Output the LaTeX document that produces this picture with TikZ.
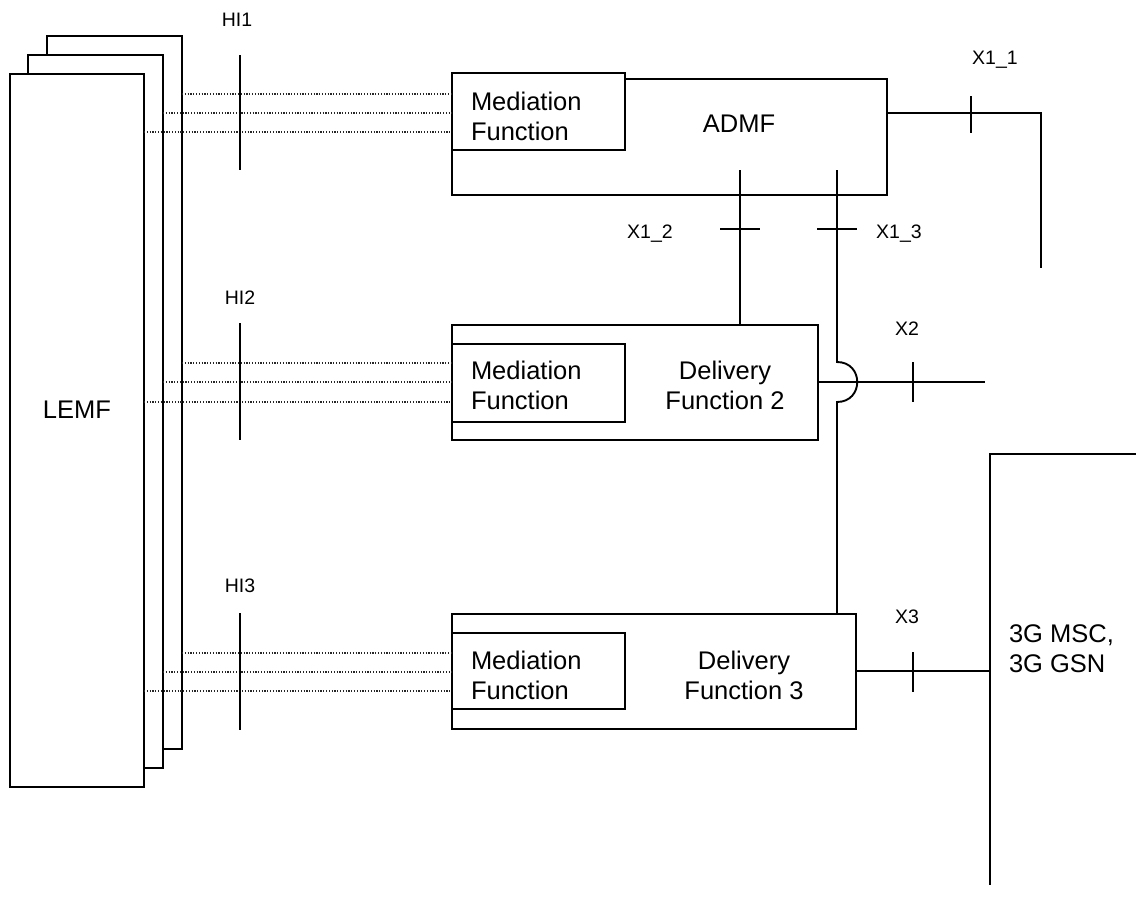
\documentclass[tikz,border=0pt]{standalone}
\usepackage{fontspec}
\setmainfont{Liberation Sans}
\begin{document}
\begin{tikzpicture}[x=1pt,y=-1pt,
  ln/.style={line width=1.9pt},
  boxs/.style={draw, line width=1.9pt, fill=white, inner sep=0pt, outer sep=0pt, anchor=north west},
  dotl/.style={line width=1.2pt, dash pattern=on 1.2pt off 1.6pt, black!85},
  big/.style={font=\fontsize{25.5}{30}\selectfont, inner sep=0pt, outer sep=0pt},
  lbl/.style={font=\fontsize{19.5}{23}\selectfont, inner sep=0pt}]
\useasboundingbox (0,0) rectangle (1136,913);

% LEMF stack
\node[boxs, minimum width=135pt, minimum height=713pt] (lemfA) at (47,36) {};
\node[boxs, minimum width=135pt, minimum height=713pt] (lemfB) at (28,55) {};
\node[boxs, minimum width=134pt, minimum height=713pt] (lemfC) at (10,74) {};
\node[big] (lemft) at (77,410) {LEMF};

% ADMF
\node[boxs, minimum width=435pt, minimum height=116pt] (admf) at (452,79) {};
\node[boxs, minimum width=173pt, minimum height=77pt] (mf1) at (452,73) {};
\node[big, align=left, anchor=west] (mf1t) at (471,116) {Mediation\\Function};
\node[big] (admft) at (739,124) {ADMF};

% Delivery Function 2
\node[boxs, minimum width=366pt, minimum height=115pt] (df2) at (452,325) {};
\node[boxs, minimum width=173pt, minimum height=78pt] (mf2) at (452,344) {};
\node[big, align=left, anchor=west] (mf2t) at (471,385) {Mediation\\Function};
\node[big, align=center] (df2t) at (725,385) {Delivery\\Function 2};

% Delivery Function 3
\node[boxs, minimum width=404pt, minimum height=115pt] (df3) at (452,614) {};
\node[boxs, minimum width=173pt, minimum height=76pt] (mf3) at (452,633) {};
\node[big, align=left, anchor=west] (mf3t) at (471,675) {Mediation\\Function};
\node[big, align=center] (df3t) at (744,675) {Delivery\\Function 3};

% 3G MSC / GSN
\coordinate (mscTL) at (990,454);
\coordinate (mscTR) at (1140,454);
\coordinate (mscB) at (990,885);
\draw[ln] (mscTR) -- (mscTL) -- (mscB);
\node[big, align=left, anchor=west] (msct) at (1009,649) {3G MSC,\\3G GSN};

% HI dotted links
\draw[dotl] (lemfA.east |- 0,94) -- (mf1.west |- 0,94);
\draw[dotl] (lemfB.east |- 0,113) -- (mf1.west |- 0,113);
\draw[dotl] (lemfC.east |- 0,132) -- (mf1.west |- 0,132);
\draw[dotl] (lemfA.east |- 0,363) -- (mf2.west |- 0,363);
\draw[dotl] (lemfB.east |- 0,382) -- (mf2.west |- 0,382);
\draw[dotl] (lemfC.east |- 0,402) -- (mf2.west |- 0,402);
\draw[dotl] (lemfA.east |- 0,653) -- (mf3.west |- 0,653);
\draw[dotl] (lemfB.east |- 0,672) -- (mf3.west |- 0,672);
\draw[dotl] (lemfC.east |- 0,691) -- (mf3.west |- 0,691);

% HI bars and labels
\coordinate (hi1a) at (240,55);  \coordinate (hi1b) at (240,170);
\coordinate (hi2a) at (240,323); \coordinate (hi2b) at (240,440);
\coordinate (hi3a) at (240,613); \coordinate (hi3b) at (240,730);
\draw[ln] (hi1a) -- (hi1b);
\draw[ln] (hi2a) -- (hi2b);
\draw[ln] (hi3a) -- (hi3b);
\node[lbl] (hi1) at (237,20) {HI1};
\node[lbl] (hi2) at (240,298) {HI2};
\node[lbl] (hi3) at (240,586) {HI3};

% X1_1
\coordinate (x11c) at (1041,113);
\coordinate (x11e) at (1041,268);
\draw[ln] (admf.east |- x11c) -- (x11c) -- (x11e);
\coordinate (t11a) at (971,96); \coordinate (t11b) at (971,133);
\draw[ln] (t11a) -- (t11b);
\node[lbl] (x11) at (995,60) {X1\_1};

% X1_2
\coordinate (x12s) at (740,170);
\draw[ln] (x12s) -- (x12s |- df2.north);
\coordinate (t12a) at (720,229); \coordinate (t12b) at (760,229);
\draw[ln] (t12a) -- (t12b);
\node[lbl] (x12) at (650,234) {X1\_2};

% X1_3 with hop over X2
\coordinate (x13s) at (837,170);
\coordinate (hopa) at (837,362);
\coordinate (hopb) at (837,402);
\draw[ln] (x13s) -- (hopa) .. controls (864,362) and (864,402) .. (hopb) -- (hopb |- df3.north);
\coordinate (t13a) at (817,229); \coordinate (t13b) at (857,229);
\draw[ln] (t13a) -- (t13b);
\node[lbl] (x13) at (899,234) {X1\_3};

% X2
\coordinate (x2e) at (985,382);
\draw[ln] (df2.east |- x2e) -- (x2e);
\coordinate (t2a) at (913,362); \coordinate (t2b) at (913,402);
\draw[ln] (t2a) -- (t2b);
\node[lbl] (x2) at (907,329) {X2};

% X3
\draw[ln] (df3.east |- 0,671) -- (mscTL |- 0,671);
\coordinate (t3a) at (913,652); \coordinate (t3b) at (913,692);
\draw[ln] (t3a) -- (t3b);
\node[lbl] (x3) at (907,617) {X3};
\end{tikzpicture}
\end{document}
